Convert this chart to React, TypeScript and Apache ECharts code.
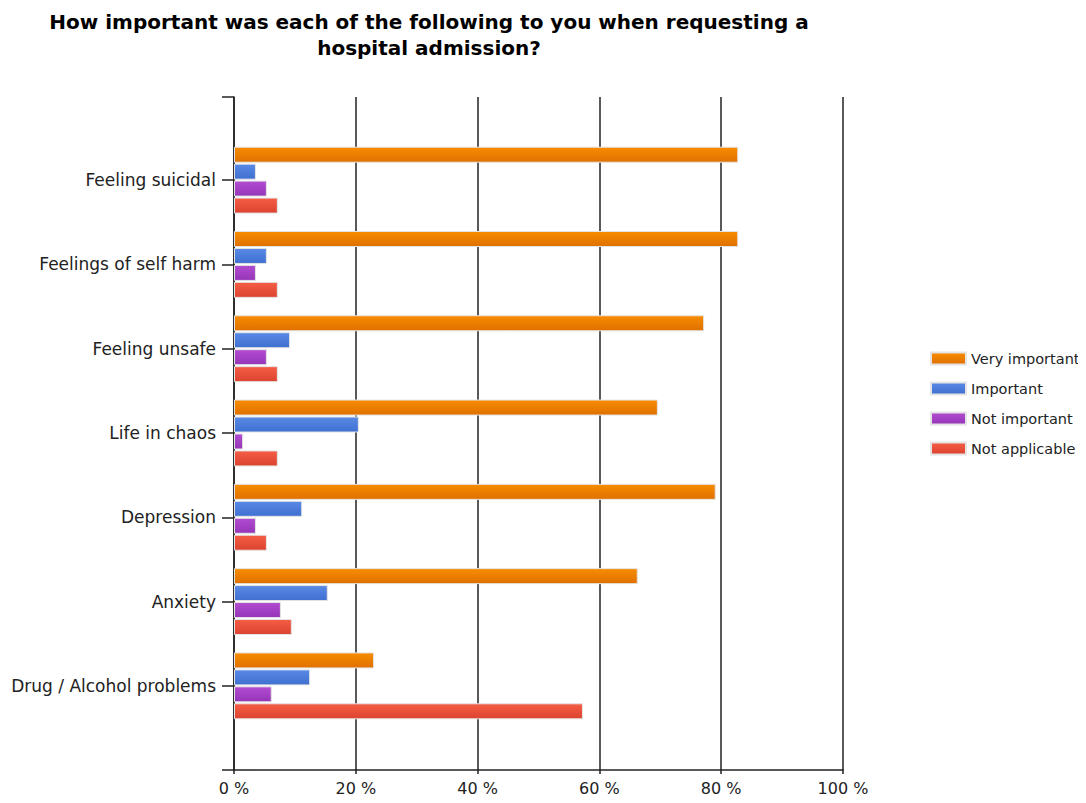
import React, { useEffect, useRef } from "react";
import * as echarts from "echarts";

const categories = [
  "Feeling suicidal",
  "Feelings of self harm",
  "Feeling unsafe",
  "Life in chaos",
  "Depression",
  "Anxiety",
  "Drug / Alcohol problems",
];
const seriesNames = ["Very important", "Important", "Not important", "Not applicable"];
const veryImportant = [82.8, 82.8, 77.2, 69.6, 79.1, 66.3, 23.0];
const important = [3.6, 5.4, 9.2, 20.5, 11.2, 15.4, 12.5];
const notImportant = [5.4, 3.6, 5.4, 1.5, 3.6, 7.7, 6.2];
const notApplicable = [7.2, 7.2, 7.2, 7.2, 5.4, 9.5, 57.3];
const xTicks = [0, 20, 40, 60, 80, 100];

const colorPairs: [string, string][] = [
  ["#f88c00", "#e07000"],
  ["#5a8ae6", "#3f6fd0"],
  ["#b24cd0", "#9535b8"],
  ["#f55d45", "#dc4330"],
];

export default function App() {
  const ref = useRef<HTMLDivElement>(null);
  useEffect(() => {
    if (!ref.current) return;
    const chart = echarts.init(ref.current, undefined, { renderer: "svg" });
    const font = "'DejaVu Sans', Verdana, sans-serif";
    const data = [veryImportant, important, notImportant, notApplicable];
    chart.setOption({
      animation: false,
      textStyle: { fontFamily: font },
      title: {
        text: "How important was each of the following to you when requesting a\nhospital admission?",
        left: 424,
        textAlign: "center",
        top: 4,
        textStyle: { fontSize: 20, fontWeight: "bold", color: "#000", lineHeight: 26, fontFamily: font },
      },
      legend: {
        orient: "vertical",
        left: 925,
        top: 346,
        itemWidth: 35,
        itemHeight: 12,
        itemGap: 15,
        icon: "rect",
        textStyle: { fontSize: 14.5, color: "#222", fontFamily: font },
        data: seriesNames,
      },
      grid: [
        { left: 234, right: 243, top: 97, bottom: 33 },
        { left: 234, right: 243, top: 138, bottom: 75 },
      ],
      xAxis: [
        {
          gridIndex: 0,
          type: "value",
          min: xTicks[0],
          max: xTicks[xTicks.length - 1],
          interval: 20,
          axisLine: { show: true, lineStyle: { color: "#222", width: 1.5 } },
          axisTick: { show: true, length: 4, lineStyle: { color: "#222", width: 1.5 } },
          axisLabel: { formatter: "{value} %", fontSize: 16, color: "#222", margin: 10 },
          splitLine: { show: true, lineStyle: { color: "#222", width: 1.5 } },
        },
        {
          gridIndex: 1,
          type: "value",
          min: 0,
          max: 100,
          show: false,
        },
      ],
      yAxis: [
        {
          gridIndex: 0,
          type: "value",
          min: 0,
          max: 1,
          interval: 1,
          axisLine: { show: true, lineStyle: { color: "#222", width: 1.5 } },
          axisTick: { show: true, length: 12, lineStyle: { color: "#222", width: 1.5 } },
          axisLabel: { show: false },
          splitLine: { show: false },
        },
        {
          gridIndex: 1,
          type: "category",
          inverse: true,
          data: categories,
          axisLine: { show: false },
          axisTick: { show: true, alignWithLabel: true, length: 12, lineStyle: { color: "#222", width: 1.5 } },
          axisLabel: { fontSize: 17, color: "#222", margin: 18 },
          splitLine: { show: false },
        },
      ],
      series: seriesNames.map((name, i) => ({
        name,
        type: "bar",
        xAxisIndex: 1,
        yAxisIndex: 1,
        data: data[i],
        barWidth: 16,
        barGap: "6%",
        itemStyle: {
          color: new echarts.graphic.LinearGradient(0, 0, 0, 1, [
            { offset: 0, color: colorPairs[i][0] },
            { offset: 1, color: colorPairs[i][1] },
          ]),
          borderColor: "#e4e4e4",
          borderWidth: 1,
        },
      })),
    });
    return () => chart.dispose();
  }, []);
  return <div ref={ref} style={{ width: 1086, height: 803, margin: -8 }} />;
}
